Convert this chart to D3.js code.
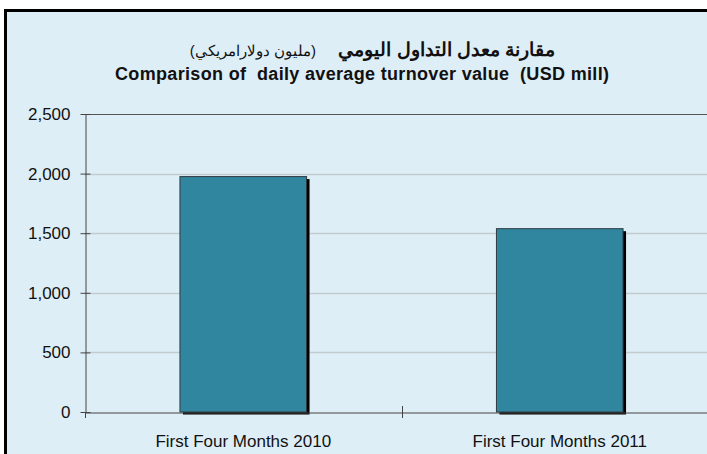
<!DOCTYPE html>
<html>
<head>
<meta charset="utf-8">
<script src="https://cdn.jsdelivr.net/npm/d3@7"></script>
<style>
  html, body { margin: 0; padding: 0; background: #fff; }
  svg { display: block; }
  text { font-family: "Liberation Sans", Arial, sans-serif; fill: #111; }
</style>
</head>
<body>
<svg id="chart" width="707" height="454"></svg>
<script>
const categories = ["First Four Months 2010", "First Four Months 2011"];
const values = [1975, 1538];
const yTicks = [0, 500, 1000, 1500, 2000, 2500];
const titleArabic = "مقارنة معدل التداول اليومي";
const titleArabicUnit = "(مليون دولارامريكي)";
const titleEnglish = "Comparison of  daily average turnover value  (USD mill)";

const svg = d3.select("#chart");

// outer frame
svg.append("rect")
  .attr("x", 5.5).attr("y", 10.5)
  .attr("width", 720).attr("height", 460)
  .attr("fill", "#deeef7")
  .attr("stroke", "#000")
  .attr("stroke-width", 3);

const plot = { left: 85, right: 718, top: 114, bottom: 412 };

const x = d3.scaleBand().domain(categories).range([plot.left, plot.right]).padding(0);
const y = d3.scaleLinear().domain([0, 2500]).range([plot.bottom, plot.top]);

// gridlines
svg.append("g")
  .selectAll("line")
  .data(yTicks.filter((d) => d > 0 && d < 2500))
  .join("line")
  .attr("x1", plot.left).attr("x2", plot.right)
  .attr("y1", (d) => Math.round(y(d)) + 0.5)
  .attr("y2", (d) => Math.round(y(d)) + 0.5)
  .attr("stroke", "#c4cbcf")
  .attr("stroke-width", 1.5);

// plot border top
svg.append("line")
  .attr("x1", plot.left).attr("x2", plot.right)
  .attr("y1", y(2500) + 0.5).attr("y2", y(2500) + 0.5)
  .attr("stroke", "#555").attr("stroke-width", 1);

// bars with shadow
const barW = x.bandwidth() * 0.4;
const bars = svg.append("g");
bars.selectAll("rect.shadow")
  .data(values)
  .join("rect")
  .attr("class", "shadow")
  .attr("x", (d, i) => x(categories[i]) + (x.bandwidth() - barW) / 2 + 3)
  .attr("y", (d) => y(d) + 2.5)
  .attr("width", barW)
  .attr("height", (d) => y(0) - y(d))
  .attr("fill", "#000");
bars.selectAll("rect.bar")
  .data(values)
  .join("rect")
  .attr("class", "bar")
  .attr("x", (d, i) => x(categories[i]) + (x.bandwidth() - barW) / 2)
  .attr("y", (d) => y(d))
  .attr("width", barW)
  .attr("height", (d) => y(0) - y(d))
  .attr("fill", "#30869f")
  .attr("stroke", "#2f3b40")
  .attr("stroke-width", 1);

// y axis
const yAxis = svg.append("g")
  .attr("transform", `translate(${plot.left + 0.5},0)`)
  .call(d3.axisLeft(y).tickValues(yTicks).tickFormat(d3.format(",")).tickSizeInner(5).tickSizeOuter(0).tickPadding(10));
yAxis.select(".domain").attr("stroke", "#444");
yAxis.selectAll(".tick line").attr("stroke", "#444").attr("x2", 5).attr("x1", -5);
yAxis.selectAll(".tick text")
  .attr("font-size", 17)
  .attr("font-family", "Liberation Sans, Arial, sans-serif")
  .attr("fill", "#111");

// x axis
const xAxis = svg.append("g")
  .attr("transform", `translate(0,${plot.bottom + 0.5})`)
  .call(d3.axisBottom(x).tickSize(0).tickPadding(22));
xAxis.select(".domain").attr("stroke", "#444");
xAxis.selectAll(".tick text")
  .attr("font-size", 17)
  .attr("font-family", "Liberation Sans, Arial, sans-serif")
  .attr("fill", "#111");

// category boundary ticks
const edges = categories.map((c) => x(c)).concat([x(categories[categories.length - 1]) + x.bandwidth()]);
svg.append("g")
  .selectAll("line")
  .data(edges)
  .join("line")
  .attr("x1", (d) => Math.round(d) + 0.5)
  .attr("x2", (d) => Math.round(d) + 0.5)
  .attr("y1", (d, i) => (i === 0 ? plot.bottom : plot.bottom - 6))
  .attr("y2", plot.bottom + 6)
  .attr("stroke", "#444");

// titles
svg.append("text")
  .attr("x", 555).attr("y", 56)
  .attr("text-anchor", "end")
  .attr("font-family", "DejaVu Sans, sans-serif")
  .attr("font-weight", "bold")
  .attr("font-size", 18.7)
  .text(titleArabic);
svg.append("text")
  .attr("x", 316).attr("y", 56)
  .attr("text-anchor", "end")
  .attr("font-family", "DejaVu Sans, sans-serif")
  .attr("font-size", 15)
  .text(titleArabicUnit);
svg.append("text")
  .attr("x", 362).attr("y", 80)
  .attr("text-anchor", "middle")
  .attr("font-weight", "bold")
  .attr("font-size", 18)
  .attr("textLength", 494)
  .attr("lengthAdjust", "spacing")
  .style("white-space", "pre")
  .text(titleEnglish);
</script>
</body>
</html>
